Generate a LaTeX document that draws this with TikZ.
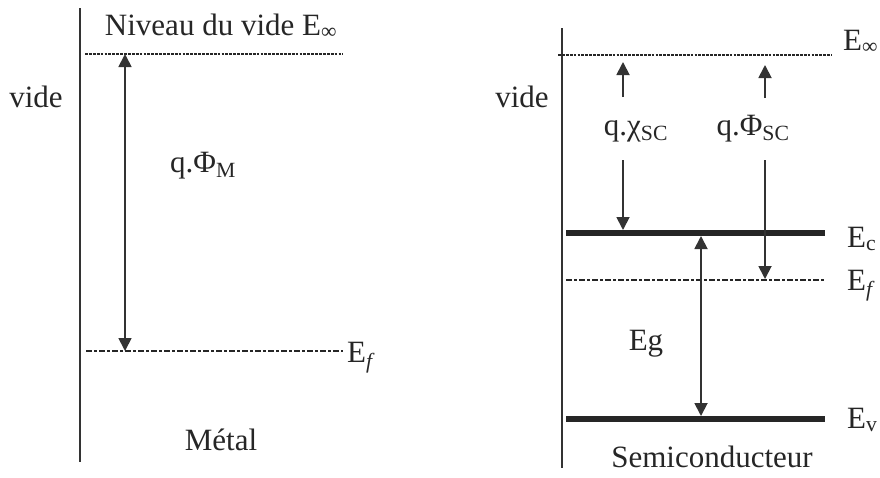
\documentclass[tikz,border=0pt]{standalone}
\usepackage{fontspec}
\setmainfont{Liberation Serif}
\usetikzlibrary{arrows.meta}
\begin{document}
\begin{tikzpicture}[x=1pt,y=-1pt,
  txt/.style={font=\fontsize{31}{36}\selectfont, inner sep=0pt, text=black!85},
  axisline/.style={line width=2.5pt, draw=black!80},
  vac/.style={line width=2.6pt, draw=black!85, dash pattern=on 2.8pt off 1.1pt},
  fermi/.style={line width=2.6pt, draw=black!85, dash pattern=on 6pt off 2.2pt on 2.6pt off 2.2pt},
  band/.style={line width=6pt, draw=black!85},
  arr/.style={line width=1.8pt, draw=black!80, -{Triangle[length=13pt,width=13pt]}},
  darr/.style={line width=1.8pt, draw=black!80, {Triangle[length=13pt,width=13pt]}-{Triangle[length=13pt,width=13pt]}}
]
\useasboundingbox (0,0) rectangle (880,477);

% ---------- Metal ----------
\coordinate (mtop) at (80,8);
\coordinate (mbot) at (80,462);
\draw[axisline] (mtop) -- (mbot);

\coordinate (mvacL) at (85,54);
\coordinate (mvacR) at (343,54);
\draw[vac] (mvacL) -- (mvacR);

\coordinate (mefL) at (86,351);
\coordinate (mefR) at (343,351);
\draw[fermi] (mefL) -- (mefR);

\coordinate (marrT) at (125,54);
\coordinate (marrB) at (125,351);
\draw[darr] (marrT) -- (marrB);

\node[txt, anchor=base] (niveau) at (221,35) {Niveau du vide E\textsubscript{∞}};
\node[txt, anchor=base] (videL) at (36,107) {vide};
\node[txt, anchor=base] (phiM) at (203,172) {q.Φ\textsubscript{M}};
\node[txt, anchor=base west] (efL) at (347,362) {E\textsubscript{\textit{f}}};
\node[txt, anchor=base] (metal) at (221,450) {Métal};

% ---------- Semiconductor ----------
\coordinate (stop) at (562,28);
\coordinate (sbot) at (562,468);
\draw[axisline] (stop) -- (sbot);

\coordinate (svacL) at (558,55);
\coordinate (svacR) at (832,55);
\draw[vac] (svacL) -- (svacR);

\coordinate (ecL) at (566,233);
\coordinate (ecR) at (825,233);
\draw[band] (ecL) -- (ecR);

\coordinate (sefL) at (566,280);
\coordinate (sefR) at (825,280);
\draw[fermi] (sefL) -- (sefR);

\coordinate (evL) at (566,419);
\coordinate (evR) at (825,419);
\draw[band] (evL) -- (evR);

% chi arrows
\coordinate (chiUpB) at (623,97);
\coordinate (chiUpT) at (623,62);
\draw[arr] (chiUpB) -- (chiUpT);
\coordinate (chiDnT) at (623,160);
\coordinate (chiDnB) at (623,230);
\draw[arr] (chiDnT) -- (chiDnB);

% phi arrows
\coordinate (phiUpB) at (765,98);
\coordinate (phiUpT) at (765,65);
\draw[arr] (phiUpB) -- (phiUpT);
\coordinate (phiDnT) at (765,160);
\coordinate (phiDnB) at (765,279);
\draw[arr] (phiDnT) -- (phiDnB);

% Eg arrow
\coordinate (egT) at (701,236);
\coordinate (egB) at (701,416);
\draw[darr] (egT) -- (egB);

\node[txt, anchor=base west] (einf) at (843,50) {E\textsubscript{∞}};
\node[txt, anchor=base] (videR) at (522,107) {vide};
\node[txt, anchor=base] (chiSC) at (636,135) {q.χ\textsubscript{SC}};
\node[txt, anchor=base] (phiSC) at (753,135) {q.Φ\textsubscript{SC}};
\node[txt, anchor=base west] (ec) at (847,247) {E\textsubscript{c}};
\node[txt, anchor=base west] (efR) at (847,290) {E\textsubscript{\textit{f}}};
\node[txt, anchor=base west] (ev) at (847,428) {E\textsubscript{v}};
\node[txt, anchor=base] (eg) at (646,350) {Eg};
\node[txt, anchor=base] (semi) at (712,467) {Semiconducteur};
\end{tikzpicture}
\end{document}
